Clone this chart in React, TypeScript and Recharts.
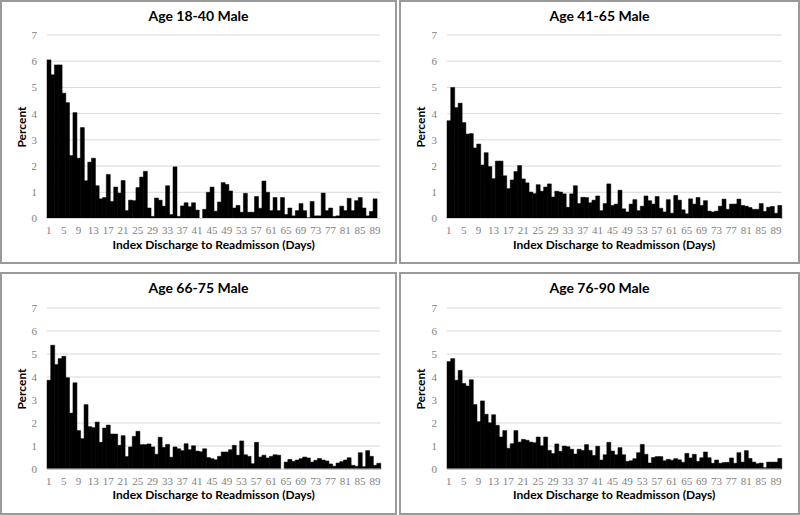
import { Bar, BarChart, CartesianGrid, XAxis, YAxis } from 'recharts';

const days = Array.from({ length: 90 }, (_, i) => i + 1);

const male18to40 = [
  6.05, 5.48, 5.86, 5.86, 4.78, 4.42, 2.4, 4.04, 2.3, 3.47,
  1.44, 2.15, 2.3, 1.25, 0.75, 0.8, 1.68, 0.65, 1.2, 0.97,
  1.45, 0.3, 0.7, 0.68, 1.18, 1.58, 1.8, 0.4, 0.08, 0.78,
  0.7, 0.47, 1.25, 0.15, 1.97, 0.08, 0.48, 0.6, 0.45, 0.6,
  0.32, 0, 0.35, 1.0, 1.2, 0.28, 0.63, 1.37, 1.3, 1.05,
  0.4, 0.5, 0.24, 0.96, 0.24, 0.24, 0.84, 0.39, 1.43, 1.0,
  0.3, 0.8, 0.3, 0.8, 0.15, 0.4, 0.1, 0.3, 0.57, 0.3,
  0.03, 0.65, 0.1, 0.1, 0.97, 0.3, 0.4, 0.08, 0.1, 0.47,
  0.3, 0.77, 0.3, 0.68, 0.8, 0.4, 0.1, 0.27, 0.75, 0,
];

const male41to65 = [
  3.73, 5.0, 4.23, 4.4, 3.66, 3.22, 3.24, 2.69, 2.84, 2.04,
  2.51, 1.98, 1.52, 2.19, 2.19, 1.63, 1.14, 1.47, 1.79, 2.02,
  1.51, 1.36, 1.01, 0.95, 1.29, 1.04, 1.2, 1.32, 0.82, 1.04,
  1.01, 0.94, 0.43, 0.94, 1.25, 0.57, 0.81, 0.8, 0.6, 0.7,
  0.86, 0.3, 0.57, 1.32, 0.5, 0.55, 1.08, 0.37, 0.25, 0.55,
  0.72, 0.3, 0.47, 0.86, 0.68, 0.55, 0.84, 0.39, 0.25, 0.72,
  0.2, 0.88, 0.7, 0.33, 0.18, 0.75, 0.55, 0.8, 0.5, 0.68,
  0.28, 0.25, 0.28, 0.47, 0.74, 0.35, 0.55, 0.55, 0.74, 0.5,
  0.47, 0.42, 0.35, 0.35, 0.57, 0.27, 0.43, 0.46, 0.2, 0.5,
];

const male66to75 = [
  3.86, 5.38, 4.54, 4.8, 4.9, 3.97, 2.43, 3.75, 1.67, 1.32,
  2.8, 1.84, 1.8, 2.04, 1.16, 1.78, 1.91, 1.52, 1.52, 1.03,
  1.45, 0.54, 0.96, 1.42, 1.64, 1.06, 1.06, 1.09, 0.96, 0.64,
  1.38, 0.94, 1.07, 0.51, 0.96, 0.88, 0.8, 1.1, 0.84, 1.01,
  0.78, 0.75, 0.88, 0.5, 0.45, 0.4, 0.55, 0.74, 0.74, 0.84,
  1.03, 0.6, 1.22, 0.62, 0.55, 0.23, 1.16, 0.52, 0.6, 0.48,
  0.55, 0.62, 0.6, 0, 0.3, 0.42, 0.33, 0.39, 0.45, 0.52,
  0.48, 0.3, 0.38, 0.46, 0.39, 0.35, 0.22, 0.12, 0.26, 0.32,
  0.39, 0.49, 0.16, 0.12, 0.71, 0.1, 0.8, 0.55, 0.16, 0.25,
];

const male76to90 = [
  4.67, 4.8, 3.86, 4.29, 3.72, 3.61, 3.88, 2.8, 2.06, 2.96,
  2.38, 2.01, 2.36, 1.9, 1.39, 1.67, 0.9, 1.1, 1.67, 1.17,
  1.29, 1.25, 1.17, 1.14, 1.39, 1.01, 1.39, 0.81, 0.67, 1.09,
  0.77, 1.0, 0.97, 0.86, 0.65, 0.86, 0.81, 1.06, 0.81, 0.59,
  0.99, 0.39, 0.62, 1.16, 0.78, 0.62, 0.93, 0.62, 0.33, 0.36,
  0.45, 0.71, 1.07, 0.64, 0.26, 0.5, 0.54, 0.54, 0.36, 0.42,
  0.38, 0.45, 0.4, 0.29, 0.68, 0.48, 0.64, 0.33, 0.49, 0.74,
  0.49, 0.25, 0.39, 0.25, 0.28, 0.29, 0.48, 0.25, 0.71, 0.3,
  0.8, 0.46, 0.3, 0.23, 0.26, 0.06, 0.3, 0.3, 0.3, 0.46,
];

const yTicks = [0, 1, 2, 3, 4, 5, 6, 7];

const titleFont = 'Lato, "Open Sans", sans-serif';
const tickFont = '"Liberation Serif", serif';
const BORDER = 2;

interface PanelProps {
  title: string;
  values: number[];
  left: number;
  top: number;
  width: number;
  height: number;
  // plot box in page coordinates
  plotX: [number, number];
  plotY: [number, number];
}

function Panel({ title, values, left, top, width, height, plotX, plotY }: PanelProps) {
  const data = days.map((day, i) => ({ day, pct: values[i] }));
  const innerW = width - 2 * BORDER;
  const innerH = height - 2 * BORDER;
  const ox = left + BORDER;
  const oy = top + BORDER;
  const plotLeft = plotX[0] - ox;
  const plotRight = plotX[1] - ox;
  const plotTop = plotY[0] - oy;
  const plotBottom = plotY[1] - oy;
  const plotCenterX = (plotLeft + plotRight) / 2;

  return (
    <div
      style={{
        position: 'absolute',
        left,
        top,
        width,
        height,
        boxSizing: 'border-box',
        border: `${BORDER}px solid #9a9a9a`,
        background: '#fff',
      }}
    >
      <BarChart
        width={innerW}
        height={innerH}
        data={data}
        margin={{
          top: plotTop,
          right: innerW - plotRight,
          bottom: innerH - plotBottom - 30,
          left: plotLeft - 30,
        }}
        barCategoryGap={0}
        barGap={0}
      >
        <CartesianGrid vertical={false} stroke="#d9d9d9" />
        <XAxis
          dataKey="day"
          interval={3}
          height={30}
          tickLine={false}
          tickMargin={2}
          axisLine={{ stroke: '#d9d9d9' }}
          tick={{ fill: '#7f7f7f', fontSize: 11, fontFamily: tickFont }}
        />
        <YAxis
          width={30}
          domain={[0, 7]}
          ticks={yTicks}
          axisLine={false}
          tickLine={false}
          tickMargin={4}
          tick={{ fill: '#7f7f7f', fontSize: 11, fontFamily: tickFont }}
        />
        <Bar dataKey="pct" fill="#000" stroke="#000" strokeWidth={0.5} isAnimationActive={false} />
      </BarChart>
      <div
        style={{
          position: 'absolute',
          left: 0,
          top: 6,
          width: innerW,
          textAlign: 'center',
          fontFamily: titleFont,
          fontWeight: 700,
          fontSize: 14,
          lineHeight: '16px',
        }}
      >
        {title}
      </div>
      <div
        style={{
          position: 'absolute',
          left: plotCenterX - 150,
          top: plotBottom + 19,
          width: 300,
          textAlign: 'center',
          fontFamily: titleFont,
          fontWeight: 700,
          fontSize: 12,
          lineHeight: '14px',
        }}
      >
        Index Discharge to Readmisson (Days)
      </div>
      <div
        style={{
          position: 'absolute',
          left: 20 - 40,
          top: (plotTop + plotBottom) / 2 - 7,
          width: 80,
          textAlign: 'center',
          fontFamily: titleFont,
          fontWeight: 700,
          fontSize: 12,
          lineHeight: '14px',
          transform: 'rotate(-90deg)',
        }}
      >
        Percent
      </div>
    </div>
  );
}

export default function App() {
  return (
    <div style={{ position: 'absolute', left: 0, top: 0, width: 800, height: 515, background: '#fff' }}>
      <Panel title="Age 18-40 Male" values={male18to40} left={0} top={0} width={397} height={264} plotX={[47, 380.5]} plotY={[35, 218.5]} />
      <Panel title="Age 41-65 Male" values={male41to65} left={399} top={0} width={401} height={264} plotX={[447, 781.5]} plotY={[35, 218.5]} />
      <Panel title="Age 66-75 Male" values={male66to75} left={0} top={272} width={397} height={243} plotX={[47, 380.5]} plotY={[308, 469]} />
      <Panel title="Age 76-90 Male" values={male76to90} left={399} top={272} width={401} height={243} plotX={[447, 781.5]} plotY={[308, 469]} />
    </div>
  );
}
